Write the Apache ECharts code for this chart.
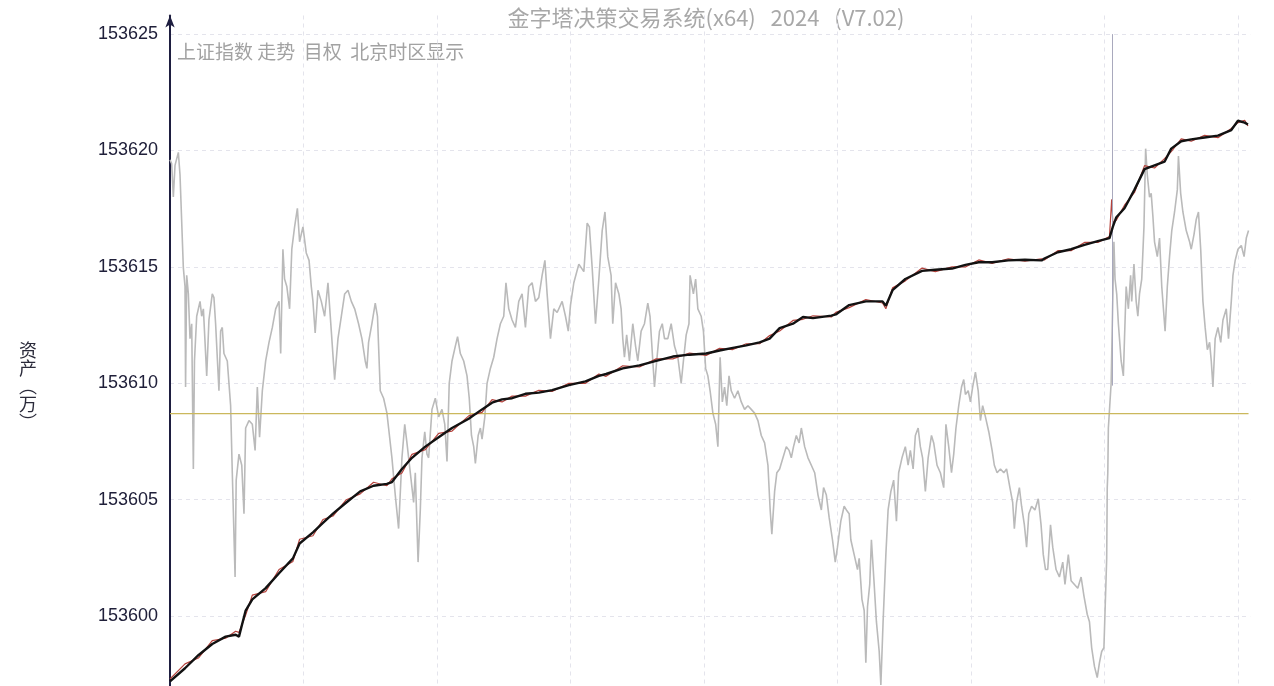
<!DOCTYPE html>
<html><head><meta charset="utf-8">
<script src="https://cdn.jsdelivr.net/npm/echarts@6/dist/echarts.min.js"></script>
<style>html,body{margin:0;padding:0;background:#fff}#c{width:1274px;height:686px}</style>
</head><body><div id="c"></div><script>
// x = trading minute (240 per day), y = value on the asset axis
const titleText = '金字塔决策交易系统(x64)   2024   (V7.02)';
const subText = '上证指数 走势  目权  北京时区显示';
const yAxisName = '资\n产\n︵\n万\n︶';
const baseLevel = 153608.7;
const dayBreakMinute = 1694;

const indexLine = [
[0,153619.60],[3,153619.44],[6,153618.00],[9,153619.36],[15,153619.92],[18,153618.96],[24,153614.96],[27,153614.16],[28,153609.84],[30,153614.64],
[33,153613.84],[36,153611.92],[39,153612.56],[42,153606.32],[44,153610.96],[48,153612.88],[54,153613.52],[57,153612.88],[60,153613.20],[66,153610.32],
[70,153612.72],[76,153613.84],[79,153613.68],[82,153612.56],[88,153609.68],[91,153612.24],[94,153612.40],[97,153611.28],[103,153610.96],[109,153609.04],
[112,153606.16],[117,153601.68],[119,153605.84],[124,153606.96],[129,153606.48],[133,153604.40],[136,153608.08],[142,153608.40],[148,153608.24],[153,153607.12],
[157,153609.84],[161,153607.68],[166,153609.68],[172,153610.96],[178,153611.76],[184,153612.40],[190,153613.20],[196,153613.52],[199,153611.28],[203,153615.76],
[206,153614.48],[210,153614.16],[215,153613.20],[219,153615.76],[224,153616.72],[229,153617.52],[233,153616.08],[239,153616.72],[245,153615.60],[250,153615.28],
[254,153614.16],[257,153613.52],[261,153612.16],[266,153614.00],[272,153613.52],[278,153612.88],[284,153614.32],[290,153612.24],[296,153610.16],[302,153611.92],
[308,153612.88],[314,153613.84],[320,153614.00],[326,153613.52],[332,153613.20],[339,153612.56],[345,153611.92],[351,153610.96],[354,153610.64],[357,153611.76],
[363,153612.56],[369,153613.44],[373,153612.88],[378,153609.68],[384,153609.36],[390,153608.72],
[393,153608.08],[399,153606.80],[405,153605.20],[411,153603.76],[417,153606.80],[422,153608.24],[426,153607.44],[432,153606.16],[438,153604.88],[441,153606.16],
[446,153602.32],[450,153604.56],[453,153606.80],[458,153607.92],[462,153606.96],[465,153606.80],[471,153608.88],[477,153609.36],[483,153608.56],[489,153608.88],
[494,153608.24],[498,153606.64],[502,153610.00],[507,153610.96],[513,153611.60],[517,153612.00],[522,153611.28],[528,153610.96],[534,153610.32],[538,153609.36],
[542,153607.76],[546,153607.28],[549,153606.56],[554,153607.76],[558,153608.08],[561,153607.60],[566,153608.56],[570,153610.00],[576,153610.64],[582,153611.12],
[588,153611.92],[594,153612.56],[600,153612.88],[604,153614.32],[609,153613.20],[615,153612.72],[621,153612.40],[627,153613.52],[633,153613.84],[639,153612.40],
[645,153614.16],[651,153614.32],[657,153613.52],[663,153613.68],[669,153614.64],[674,153615.28],[678,153613.84],[684,153611.92],[690,153613.20],[696,153613.04],
[705,153613.52],[711,153612.88],[716,153612.24],[720,153613.36],[726,153614.32],[735,153615.12],[744,153614.80],[750,153616.88],[754,153616.72],[759,153614.96],
[765,153612.56],[771,153614.48],[777,153616.56],[782,153617.36],
[787,153615.44],[793,153614.64],[796,153612.56],[801,153614.32],[807,153613.84],[811,153613.20],[814,153611.92],[817,153611.12],[821,153612.08],[826,153610.96],
[832,153612.56],[837,153611.60],[841,153610.96],[847,153612.24],[853,153612.56],[859,153613.44],[863,153612.88],[868,153610.96],[871,153609.84],[875,153610.96],
[880,153612.24],[885,153612.56],[889,153611.92],[895,153611.92],[901,153612.56],[907,153611.60],[913,153611.12],[919,153610.00],[923,153610.96],[928,153612.08],
[933,153612.56],[935,153614.64],[941,153613.84],[945,153614.48],[949,153613.20],[955,153612.88],[959,153612.24],[963,153610.64],[967,153610.32],[971,153609.68],
[976,153608.72],[981,153608.24],[985,153607.28],[989,153611.12],[993,153609.20],[997,153609.84],[1001,153609.04],[1005,153610.32],[1009,153609.68],[1015,153609.36],
[1021,153609.68],[1027,153609.20],[1033,153608.88],[1039,153609.04],[1045,153608.88],[1051,153608.72],[1057,153608.40],[1063,153607.76],[1069,153607.44],[1075,153606.48],
[1079,153604.56],[1082,153603.52],[1087,153605.36],[1091,153606.16],[1096,153606.32],[1102,153606.80],[1108,153607.28],[1113,153607.12],[1117,153606.80],[1121,153607.28],
[1126,153607.76],[1131,153607.44],[1135,153608.08],[1141,153607.28],[1147,153606.80],[1153,153606.48],[1159,153606.16],[1165,153605.20],[1171,153604.56],[1175,153605.52],
[1180,153605.20],[1185,153604.24],
[1191,153603.28],[1196,153602.32],[1200,153602.96],[1206,153604.08],[1212,153604.72],[1216,153604.56],[1221,153604.40],[1224,153603.28],[1230,153602.64],[1236,153602.00],
[1239,153602.48],[1244,153600.72],[1248,153600.24],[1251,153598.00],[1254,153600.40],[1258,153601.36],[1261,153603.28],[1266,153601.36],[1270,153599.76],[1275,153598.48],
[1278,153597.04],[1282,153599.76],[1287,153602.64],[1291,153604.56],[1296,153605.36],[1301,153605.84],[1306,153604.08],[1310,153606.16],[1316,153606.80],[1322,153607.28],
[1327,153606.48],[1331,153607.12],[1336,153606.32],[1340,153607.76],[1345,153608.08],[1349,153607.28],[1353,153606.80],[1358,153605.36],[1363,153606.80],[1369,153607.76],
[1373,153607.44],[1379,153606.48],[1385,153606.16],[1391,153605.52],[1395,153608.24],[1400,153607.28],[1405,153606.16],[1409,153606.96],[1413,153608.08],[1418,153609.04],
[1423,153609.84],[1427,153610.16],[1430,153609.52],[1435,153609.68],[1439,153609.20],[1443,153609.84],[1448,153610.48],[1453,153609.68],[1457,153608.40],[1461,153609.04],
[1466,153608.56],[1472,153607.92],[1478,153607.12],[1482,153606.48],[1487,153606.16],[1493,153606.32],[1499,153606.16],[1504,153606.32],[1510,153605.52],[1515,153604.88],
[1518,153603.76],[1522,153604.88],[1527,153605.52],[1531,153604.72],[1536,153603.92],[1540,153602.96],[1544,153604.40],[1549,153604.72],[1555,153604.56],[1561,153605.04],
[1566,153603.92],[1570,153602.64],[1574,153602.00],
[1578,153602.00],[1583,153603.92],[1587,153602.96],[1593,153602.00],[1599,153601.68],[1605,153602.32],[1609,153601.36],[1615,153602.64],[1620,153601.52],[1626,153601.36],
[1632,153601.20],[1638,153601.68],[1643,153600.88],[1649,153600.08],[1653,153599.76],[1657,153598.64],[1662,153597.84],[1667,153597.36],[1671,153598.00],[1675,153598.48],
[1679,153598.64],[1684,153602.48],[1685,153605.52],[1686,153606.16],[1687,153608.08],[1692,153610.00],[1697,153616.08],[1699,153614.48],[1702,153613.84],[1705,153612.56],
[1710,153610.96],[1714,153610.32],[1716,153611.92],[1719,153614.16],[1723,153613.20],[1727,153614.64],[1729,153613.52],[1733,153615.12],[1737,153613.52],[1740,153612.88],
[1743,153613.84],[1747,153614.48],[1751,153616.72],[1754,153620.08],[1757,153618.96],[1761,153618.00],[1764,153618.16],[1767,153617.20],[1770,153616.08],[1775,153615.44],
[1779,153616.24],[1783,153614.16],[1787,153612.88],[1789,153612.24],[1793,153614.16],[1797,153615.44],[1801,153616.56],[1806,153617.36],[1811,153618.32],[1813,153619.76],
[1817,153618.16],[1821,153617.36],[1827,153616.56],[1833,153616.08],[1836,153615.76],[1841,153616.40],[1845,153617.04],[1849,153617.36],[1853,153615.76],[1857,153613.52],
[1861,153612.40],[1865,153611.44],[1869,153611.76],[1872,153610.96],[1875,153609.84],[1879,153611.92],[1884,153612.40],[1889,153611.76],[1893,153612.72],[1899,153613.20],
[1903,153611.92],[1908,153613.52],[1911,153614.64],[1915,153615.28],[1920,153615.76],[1926,153615.92],[1931,153615.44],[1935,153616.24],[1939,153616.56]
];

const assetLine = [
[0,153597.20],[27,153597.76],[51,153598.32],[76,153598.80],[100,153599.12],[118,153599.20],[124,153599.12],[136,153600.24],[148,153600.72],[172,153601.20],
[196,153601.84],[221,153602.48],[233,153603.12],[257,153603.60],[275,153604.00],[293,153604.40],[317,153604.88],[342,153605.36],[366,153605.60],[390,153605.68],
[399,153605.76],[417,153606.32],[435,153606.80],[459,153607.28],[483,153607.68],[507,153608.08],[537,153608.48],[561,153608.88],[579,153609.17],[597,153609.31],
[615,153609.36],[639,153609.55],[663,153609.60],[687,153609.71],[717,153609.92],[747,153610.08],[771,153610.32],[784,153610.40],[814,153610.64],[844,153610.77],
[874,153610.96],[904,153611.15],[934,153611.23],[964,153611.28],[988,153611.41],[1012,153611.52],[1036,153611.63],[1060,153611.76],[1078,153611.92],[1096,153612.37],
[1120,153612.56],[1138,153612.85],[1156,153612.80],[1189,153612.91],[1197,153612.96],[1221,153613.36],[1251,153613.52],[1281,153613.52],[1287,153613.33],[1299,153614.00],
[1322,153614.48],[1352,153614.83],[1376,153614.88],[1406,153614.93],[1430,153615.09],[1454,153615.20],[1478,153615.20],[1507,153615.28],[1537,153615.31],[1567,153615.28],
[1572,153615.36],[1596,153615.63],[1620,153615.76],[1644,153615.95],[1668,153616.11],[1689,153616.24],[1695,153616.72],[1701,153617.12],[1716,153617.52],[1734,153618.32],
[1752,153619.20],[1770,153619.36],[1788,153619.52],[1800,153620.08],[1818,153620.40],[1836,153620.48],[1860,153620.56],[1884,153620.64],[1908,153620.88],[1920,153621.28],
[1932,153621.20],[1938,153621.12]
];

const assetLine2 = [
[0,153597.30],[27,153597.95],[51,153598.20],[76,153598.95],[100,153599.05],[118,153599.35],[124,153599.30],[136,153600.05],[148,153600.90],[172,153601.05],
[196,153602.00],[221,153602.35],[233,153603.30],[257,153603.45],[275,153604.15],[293,153604.30],[317,153605.00],[342,153605.25],[366,153605.75],[390,153605.60],
[399,153605.90],[417,153606.15],[435,153606.95],[459,153607.15],[483,153607.85],[507,153607.95],[537,153608.60],[561,153608.75],[579,153609.30],[597,153609.20],
[615,153609.45],[639,153609.45],[663,153609.70],[687,153609.65],[717,153610.00],[747,153610.00],[771,153610.40],[784,153610.30],[814,153610.75],[844,153610.70],
[874,153611.05],[904,153611.05],[934,153611.30],[964,153611.20],[988,153611.50],[1012,153611.45],[1036,153611.70],[1060,153611.70],[1078,153612.05],[1096,153612.25],
[1120,153612.70],[1138,153612.75],[1156,153612.90],[1189,153612.85],[1197,153613.05],[1221,153613.25],[1251,153613.60],[1281,153613.45],[1287,153613.20],[1299,153614.10],
[1322,153614.40],[1352,153614.95],[1376,153614.80],[1406,153615.00],[1430,153615.00],[1454,153615.30],[1478,153615.15],[1507,153615.35],[1537,153615.25],[1567,153615.35],
[1572,153615.30],[1596,153615.70],[1620,153615.70],[1644,153616.05],[1668,153616.05],[1689,153616.30],[1693,153617.90],[1695,153616.90],[1701,153617.00],[1716,153617.65],
[1734,153618.20],[1752,153619.35],[1770,153619.25],[1788,153619.65],[1800,153619.95],[1818,153620.50],[1836,153620.40],[1860,153620.65],[1884,153620.55],[1908,153620.95],
[1920,153621.20],[1932,153621.30],[1938,153621.05]
];

const chart = echarts.init(document.getElementById('c'));
const gridLine = {color:'#e4e4ec', type:[4,4], width:1};
chart.setOption({
  animation:false,
  backgroundColor:'#ffffff',
  grid:{left:170, width:1080.2, top:15.5, height:717, outerBoundsMode:'none', containLabel:false},
  xAxis:{type:'value', min:0, max:1942, interval:240,
    axisLine:{show:false}, axisTick:{show:false}, axisLabel:{show:false},
    splitLine:{show:true, showMinLine:false, showMaxLine:false, lineStyle:gridLine}},
  yAxis:{type:'value', min:153595, max:153625.8, interval:5,
    axisLine:{show:true, symbol:['none','arrow'], symbolSize:[7,12], lineStyle:{color:'#1e1e40', width:2}},
    axisTick:{show:false},
    axisLabel:{showMaxLabel:false, showMinLabel:false, margin:12, fontSize:18, color:'#20203a', fontFamily:'Liberation Sans', formatter:v=>String(v)},
    splitLine:{show:true, showMaxLine:false, lineStyle:gridLine}},
  graphic:[
    {type:'text', x:706, y:18, style:{text:titleText, fill:'#a8a8a8', fontSize:22, fontFamily:'Noto Sans CJK SC', align:'center', verticalAlign:'middle'}},
    {type:'text', x:177, y:52, style:{text:subText, fill:'#a2a2a2', fontSize:19, fontFamily:'Noto Sans CJK SC', align:'left', verticalAlign:'middle'}},
    {type:'text', x:28, y:386, style:{text:yAxisName, fill:'#2a2a3a', fontSize:18, lineHeight:18, fontFamily:'Noto Sans CJK SC', align:'center', verticalAlign:'middle'}}
  ],
  series:[
    {name:'上证指数', type:'line', data:indexLine, showSymbol:false, symbol:'none', lineStyle:{color:'#bababa', width:1.6}, z:2,
      markLine:{silent:true, symbol:'none', label:{show:false}, lineStyle:{color:'#a9a9bd', width:1, type:'solid'},
        data:[[{coord:[dayBreakMinute,153625]},{coord:[dayBreakMinute,153609.9]}]]}},
    {name:'基准', type:'line', data:[[0,baseLevel],[1939,baseLevel]], showSymbol:false, symbol:'none', lineStyle:{color:'#cbb85c', width:1.2}, z:3},
    {name:'资产2', type:'line', data:assetLine2, showSymbol:false, symbol:'none', lineStyle:{color:'#b5423c', width:1.2}, z:4},
    {name:'资产', type:'line', data:assetLine, showSymbol:false, symbol:'none', lineStyle:{color:'#121212', width:2.4}, z:5}
  ]
});
</script></body></html>
